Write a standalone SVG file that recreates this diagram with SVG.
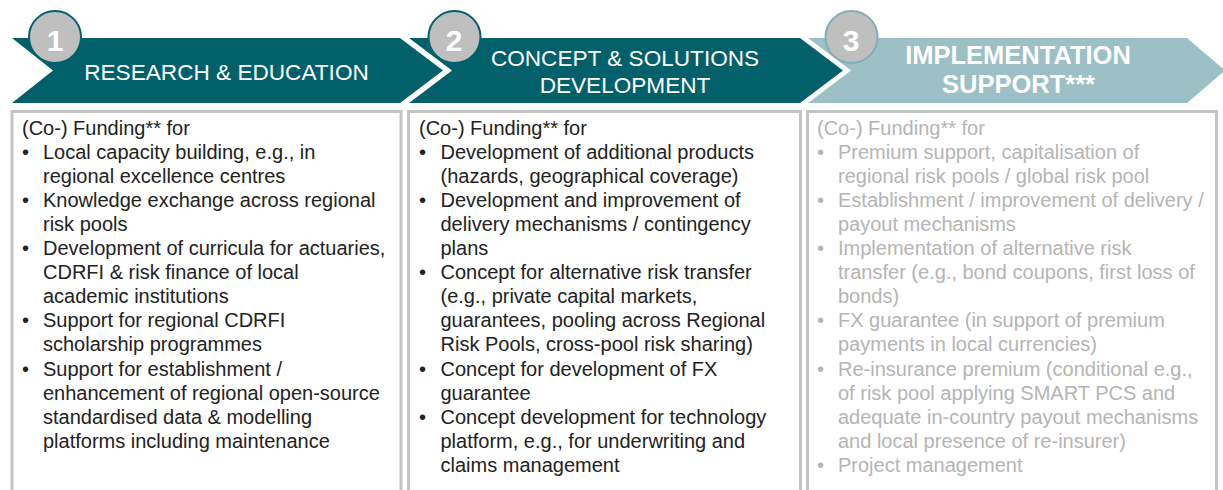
<svg xmlns="http://www.w3.org/2000/svg" width="1223" height="490" viewBox="0 0 1223 490">
<style>
.dark{fill:#02606B}
.light{fill:#9CC0C6}
.circ{fill:#BFBFBF;stroke-width:2}
.num{font-family:"Liberation Sans",Arial,sans-serif;font-weight:bold;font-size:30px;fill:#fff;text-anchor:middle}
.hdr{font-family:"Liberation Sans",Arial,sans-serif;font-size:22.6px;fill:#fff;text-anchor:middle}
.hdrb{font-family:"Liberation Sans",Arial,sans-serif;font-size:25.5px;font-weight:bold;fill:#fff;text-anchor:middle}
.box{fill:#fff;stroke:#C4C4C4;stroke-width:3}
.body{font-family:"Liberation Sans",Arial,sans-serif;font-size:20px;fill:#222}
.bodyg{font-family:"Liberation Sans",Arial,sans-serif;font-size:20px;fill:#B5B5B5}
</style>
<rect width="1223" height="490" fill="#fff"/>
<g id="stage1">
<polygon class="dark" points="12,38 400,38 443,70.5 400,103 12,103 53,70.5"/>
<circle class="circ" cx="55" cy="37" r="26" stroke="#02606B"/>
<text class="num" x="55" y="50.5">1</text>
<text class="hdr" x="226.5" y="80">RESEARCH &amp; EDUCATION</text>
<rect class="box" x="12" y="111.5" width="389" height="400"/>
<text class="body">
<tspan x="22" y="134.5">(Co-) Funding** for</tspan>
<tspan x="22" y="158.6">•</tspan><tspan x="43" y="158.6">Local capacity building, e.g., in</tspan>
<tspan x="43" y="182.7">regional excellence centres</tspan>
<tspan x="22" y="206.8">•</tspan><tspan x="43" y="206.8">Knowledge exchange across regional</tspan>
<tspan x="43" y="230.9">risk pools</tspan>
<tspan x="22" y="255">•</tspan><tspan x="43" y="255">Development of curricula for actuaries,</tspan>
<tspan x="43" y="279.1">CDRFI &amp; risk finance of local</tspan>
<tspan x="43" y="303.2">academic institutions</tspan>
<tspan x="22" y="327.3">•</tspan><tspan x="43" y="327.3">Support for regional CDRFI</tspan>
<tspan x="43" y="351.4">scholarship programmes</tspan>
<tspan x="22" y="375.5">•</tspan><tspan x="43" y="375.5">Support for establishment /</tspan>
<tspan x="43" y="399.6">enhancement of regional open-source</tspan>
<tspan x="43" y="423.7">standardised data &amp; modelling</tspan>
<tspan x="43" y="447.8">platforms including maintenance</tspan>
</text>
</g>
<g id="stage2">
<polygon class="dark" points="409,38 800,38 843,70.5 800,103 409,103 452,70.5"/>
<circle class="circ" cx="454.5" cy="37" r="26" stroke="#02606B"/>
<text class="num" x="454" y="50.5">2</text>
<text class="hdr"><tspan x="625" y="65.5">CONCEPT &amp; SOLUTIONS</tspan><tspan x="625" y="92.5">DEVELOPMENT</tspan></text>
<rect class="box" x="408.5" y="111.5" width="392" height="400"/>
<text class="body">
<tspan x="419" y="134.5">(Co-) Funding** for</tspan>
<tspan x="419" y="158.6">•</tspan><tspan x="440.5" y="158.6">Development of additional products</tspan>
<tspan x="440.5" y="182.7">(hazards, geographical coverage)</tspan>
<tspan x="419" y="206.8">•</tspan><tspan x="440.5" y="206.8">Development and improvement of</tspan>
<tspan x="440.5" y="230.9">delivery mechanisms / contingency</tspan>
<tspan x="440.5" y="255">plans</tspan>
<tspan x="419" y="279.1">•</tspan><tspan x="440.5" y="279.1">Concept for alternative risk transfer</tspan>
<tspan x="440.5" y="303.2">(e.g., private capital markets,</tspan>
<tspan x="440.5" y="327.3">guarantees, pooling across Regional</tspan>
<tspan x="440.5" y="351.4">Risk Pools, cross-pool risk sharing)</tspan>
<tspan x="419" y="375.5">•</tspan><tspan x="440.5" y="375.5">Concept for development of FX</tspan>
<tspan x="440.5" y="399.6">guarantee</tspan>
<tspan x="419" y="423.7">•</tspan><tspan x="440.5" y="423.7">Concept development for technology</tspan>
<tspan x="440.5" y="447.8">platform, e.g., for underwriting and</tspan>
<tspan x="440.5" y="471.9">claims management</tspan>
</text>
</g>
<g id="stage3">
<polygon class="light" points="808,38 1187,38 1225,70.5 1187,103 808,103 851,70.5"/>
<circle class="circ" cx="851.5" cy="37" r="26" stroke="#7FAEB6"/>
<text class="num" x="851" y="50.5">3</text>
<text class="hdrb"><tspan x="1018" y="64">IMPLEMENTATION</tspan><tspan x="1018.5" y="93.3">SUPPORT***</tspan></text>
<rect class="box" x="807.5" y="111.5" width="409" height="400"/>
<text class="bodyg">
<tspan x="817" y="134.5">(Co-) Funding** for</tspan>
<tspan x="817" y="158.6">•</tspan><tspan x="838" y="158.6">Premium support, capitalisation of</tspan>
<tspan x="838" y="182.7">regional risk pools / global risk pool</tspan>
<tspan x="817" y="206.8">•</tspan><tspan x="838" y="206.8">Establishment / improvement of delivery /</tspan>
<tspan x="838" y="230.9">payout mechanisms</tspan>
<tspan x="817" y="255">•</tspan><tspan x="838" y="255">Implementation of alternative risk</tspan>
<tspan x="838" y="279.1">transfer (e.g., bond coupons, first loss of</tspan>
<tspan x="838" y="303.2">bonds)</tspan>
<tspan x="817" y="327.3">•</tspan><tspan x="838" y="327.3">FX guarantee (in support of premium</tspan>
<tspan x="838" y="351.4">payments in local currencies)</tspan>
<tspan x="817" y="375.5">•</tspan><tspan x="838" y="375.5">Re-insurance premium (conditional e.g.,</tspan>
<tspan x="838" y="399.6">of risk pool applying SMART PCS and</tspan>
<tspan x="838" y="423.7">adequate in-country payout mechanisms</tspan>
<tspan x="838" y="447.8">and local presence of re-insurer)</tspan>
<tspan x="817" y="471.9">•</tspan><tspan x="838" y="471.9">Project management</tspan>
</text>
</g>
<g id="connectors"/>
</svg>
